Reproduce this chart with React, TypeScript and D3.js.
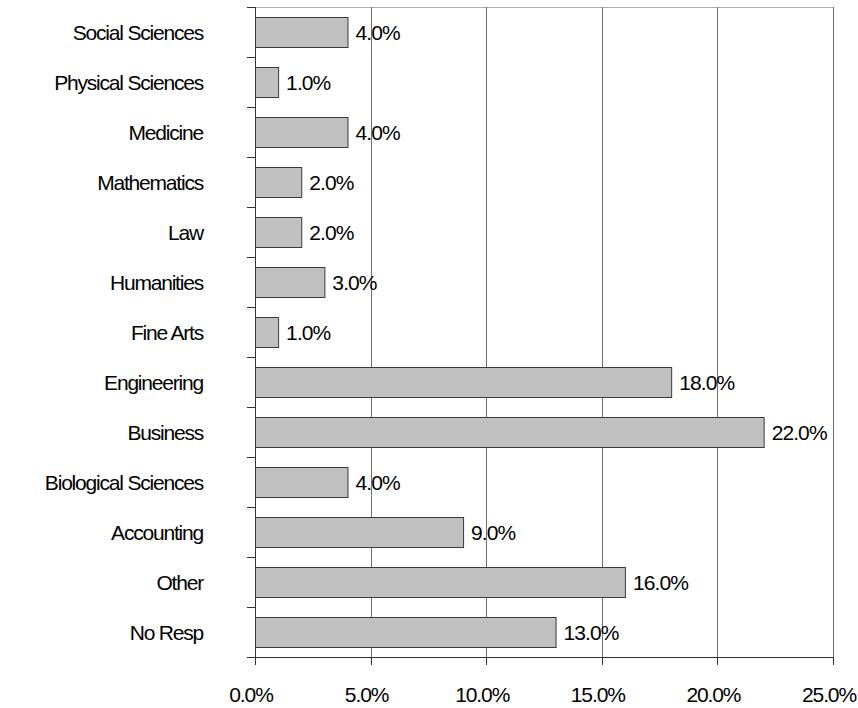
import React from "react";
import * as d3 from "d3";

const categories = [
  "Social Sciences",
  "Physical Sciences",
  "Medicine",
  "Mathematics",
  "Law",
  "Humanities",
  "Fine Arts",
  "Engineering",
  "Business",
  "Biological Sciences",
  "Accounting",
  "Other",
  "No Resp",
];
const values = [4, 1, 4, 2, 2, 3, 1, 18, 22, 4, 9, 16, 13];
const xTicks = [0, 5, 10, 15, 20, 25];

const W = 858;
const H = 708;
const left = 255;
const right = 833;
const top = 7;
const bottom = 657;
const FONT = "'Liberation Sans', Arial, sans-serif";

export default function App() {
  const x = d3.scaleLinear().domain([0, 25]).range([left, right]);
  const y = d3.scaleBand<string>().domain(categories).range([top, bottom]).paddingInner(0.4).paddingOuter(0.2);
  const band = (bottom - top) / categories.length;
  const fmt = (v: number) => v.toFixed(1) + "%";

  return (
    <svg
      width={W}
      height={H}
      style={{ position: "absolute", left: 0, top: 0, display: "block", background: "#fff" }}
      fontFamily={FONT}
    >
      {/* top border */}
      <line x1={left} x2={right} y1={top + 0.5} y2={top + 0.5} stroke="#b0b0b0" strokeWidth={1} />
      {/* gridlines */}
      {xTicks.slice(1).map((t) => (
        <line key={"g" + t} x1={Math.round(x(t)) + 0.5} x2={Math.round(x(t)) + 0.5} y1={top} y2={bottom} stroke="#707070" strokeWidth={1} />
      ))}
      {/* bars */}
      {categories.map((c, i) => (
        <rect
          key={c}
          x={x(0) + 0.5}
          y={Math.round(y(c)!) + 0.5}
          width={x(values[i]) - x(0)}
          height={Math.round(y.bandwidth())}
          fill="#c0c0c0"
          stroke="#3a3a3a"
          strokeWidth={1}
        />
      ))}
      {/* value labels */}
      {categories.map((c, i) => (
        <text
          key={"v" + c}
          x={x(values[i]) + 8}
          y={y(c)! + y.bandwidth() / 2 + 7.5}
          fontSize={21}
          letterSpacing={-0.9}
          fill="#000"
        >
          {fmt(values[i])}
        </text>
      ))}
      {/* left axis */}
      <line x1={left + 0.5} x2={left + 0.5} y1={top} y2={bottom} stroke="#333" strokeWidth={1} />
      {d3.range(categories.length + 1).map((k) => (
        <line key={"yt" + k} x1={left - 8} x2={left} y1={Math.round(top + k * band) + 0.5} y2={Math.round(top + k * band) + 0.5} stroke="#333" strokeWidth={1} />
      ))}
      {categories.map((c) => (
        <text
          key={"c" + c}
          x={203}
          y={y(c)! + y.bandwidth() / 2 + 7.5}
          fontSize={21}
          letterSpacing={-1.2}
          textAnchor="end"
          fill="#000"
        >
          {c}
        </text>
      ))}
      {/* bottom axis */}
      <line x1={left} x2={right + 1} y1={bottom + 0.5} y2={bottom + 0.5} stroke="#333" strokeWidth={1} />
      {xTicks.map((t) => (
        <g key={"xt" + t}>
          <line x1={Math.round(x(t)) + 0.5} x2={Math.round(x(t)) + 0.5} y1={bottom} y2={bottom + 8} stroke="#333" strokeWidth={1} />
          <text x={x(t) - 4} y={702} fontSize={21} letterSpacing={-1.1} textAnchor="middle" fill="#000">
            {fmt(t)}
          </text>
        </g>
      ))}
    </svg>
  );
}
